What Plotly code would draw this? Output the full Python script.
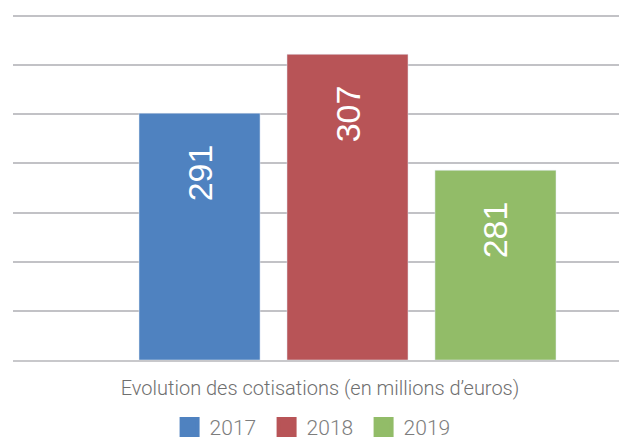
import plotly.graph_objects as go

# Données
years = ["2017", "2018", "2019"]
value_labels = [291, 307, 281]          # valeurs affichées dans les barres
bar_heights = [251, 311, 193]
colors = ["#4f82c0", "#b85457", "#92bc68"]
category = ["Cotisations"]

fig = go.Figure()

# Une barre par année, valeur écrite verticalement en haut de la barre
for year, h, lab, col in zip(years, bar_heights, value_labels, colors):
    fig.add_trace(go.Bar(
        x=category, y=[h], name=year, marker_color=col, showlegend=False,
        text=[str(lab) + "\u00a0\u00a0\u00a0"], textposition="inside",
        insidetextanchor="end", textangle=-90,
        textfont=dict(family="Liberation Sans", size=34, color="white"),
        hoverinfo="skip",
    ))

# Traces vides pour une légende avec des carrés plus grands
for year, col in zip(years, colors):
    fig.add_trace(go.Scatter(
        x=[None], y=[None], mode="markers", name=year,
        marker=dict(symbol="square", size=16, color=col,
                    line=dict(color=col, width=4)),
    ))

# la page ajoute une marge de 8 px autour du graphique
fig.update_layout(
    width=627, height=439,
    margin=dict(l=5, r=8, t=4, b=87, autoexpand=False),
    plot_bgcolor="white", paper_bgcolor="white",
    barmode="group", bargap=0.277, bargroupgap=0.182,
    legend=dict(orientation="h", x=0.492, xanchor="center",
                yref="container", y=0.045, yanchor="middle", entrywidth=52,
                font=dict(family="Roboto", weight=300, size=21, color="#7d7d7d")),
)
fig.update_xaxes(
    range=[-0.5448, 0.4552], showticklabels=False, showgrid=False, automargin=False,
    showline=True, linecolor="#c8c8cb", linewidth=2,
    title=dict(text="Evolution des cotisations (en millions d\u2019euros)", standoff=20,
               font=dict(family="Roboto", weight=300, size=20, color="#6f6f6f")),
)
fig.update_yaxes(
    range=[0, 354], dtick=50, showticklabels=False, automargin=False,
    gridcolor="#c2c2c6", gridwidth=2, zeroline=False,
)

fig.write_html("out.html")
